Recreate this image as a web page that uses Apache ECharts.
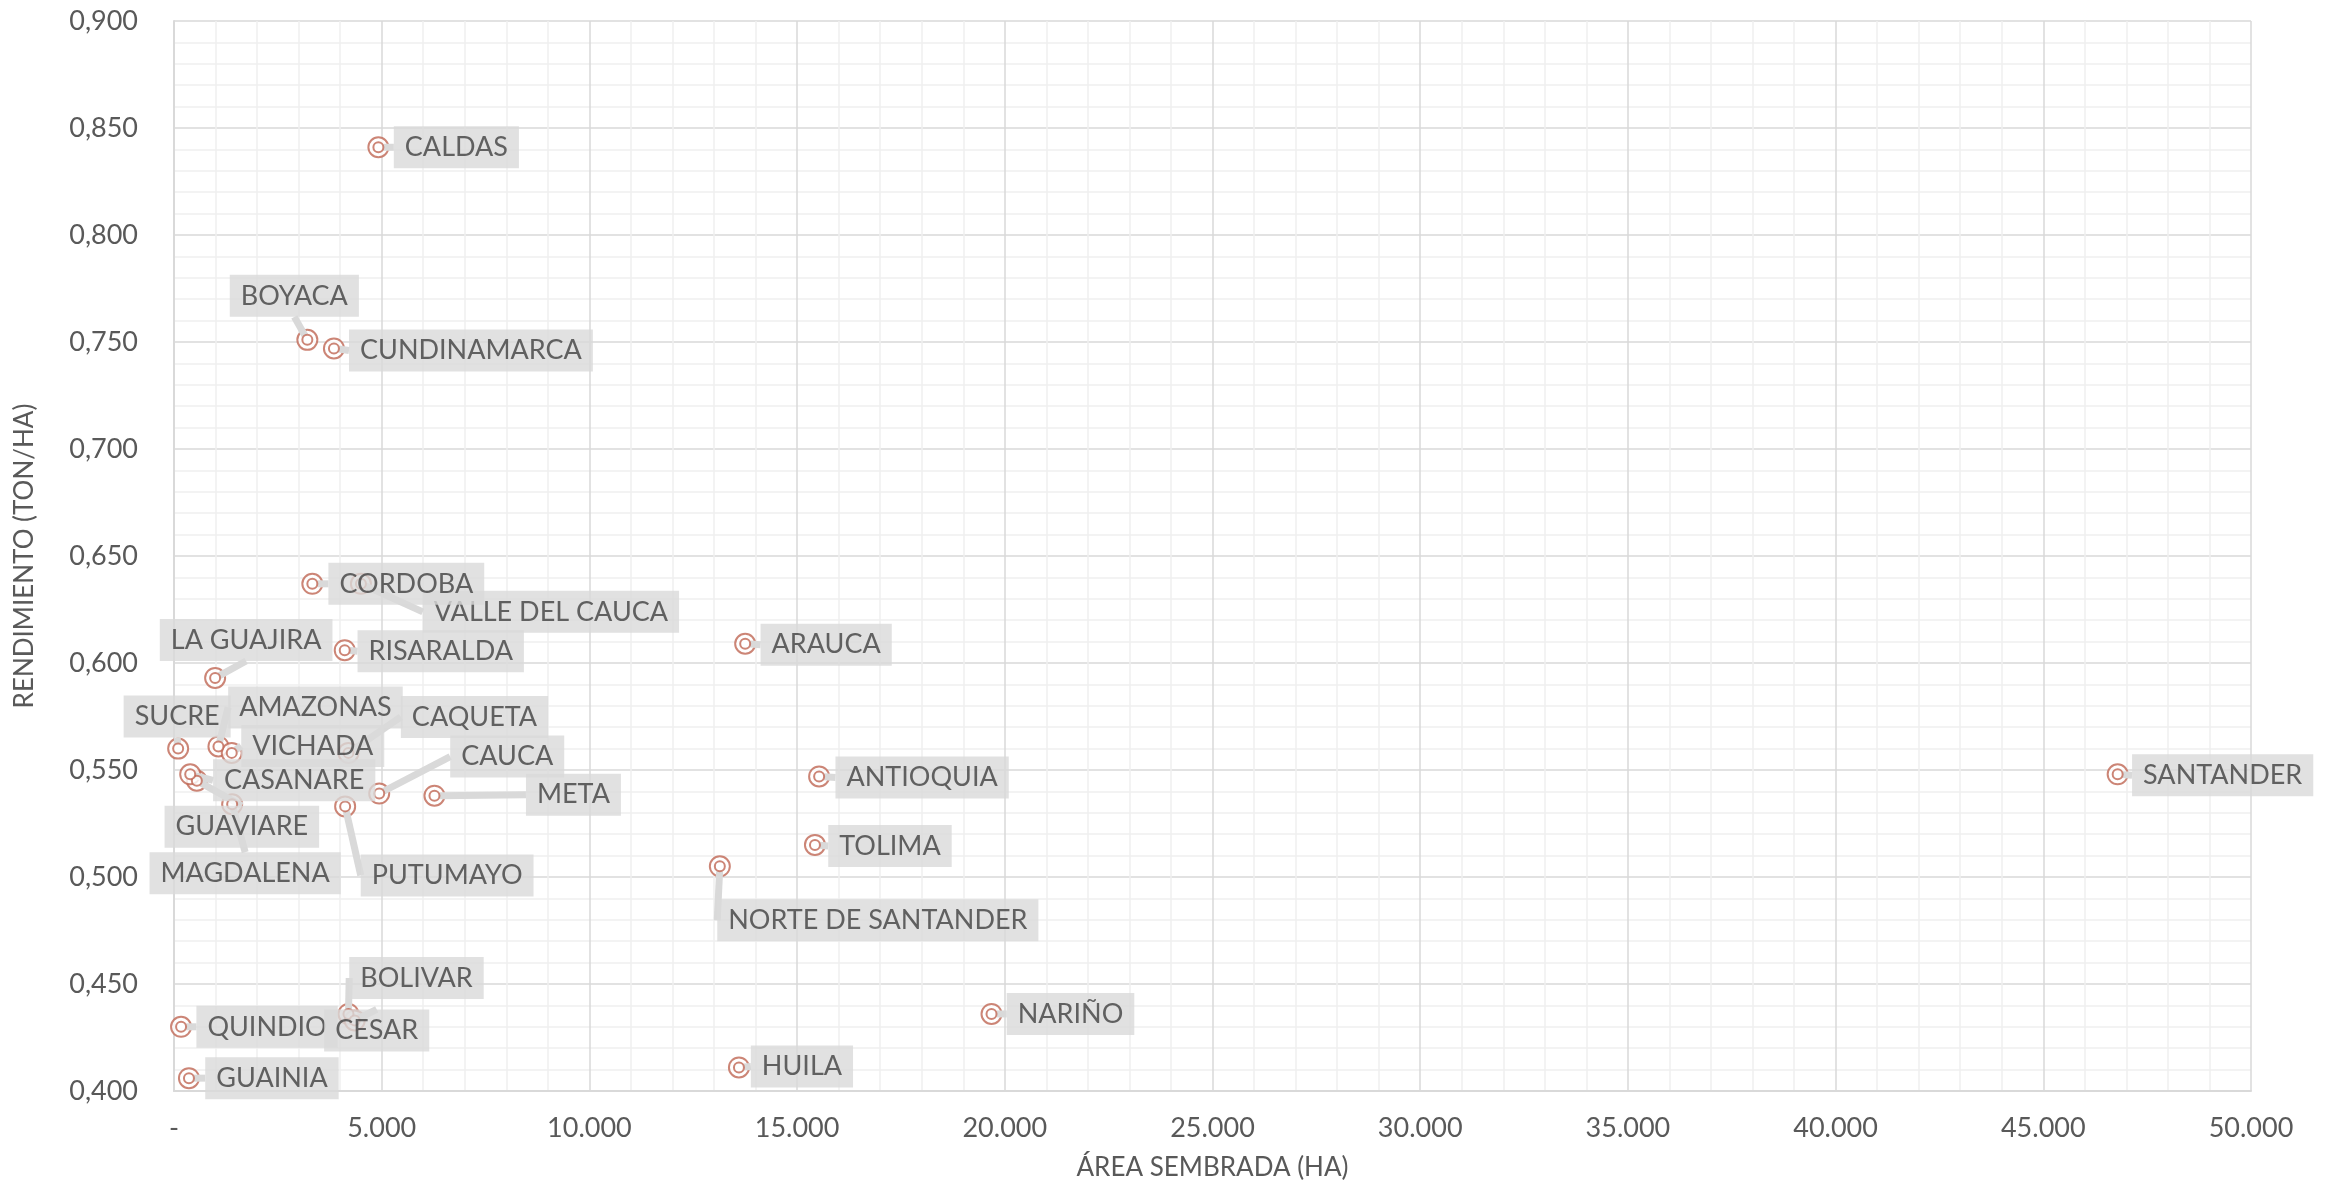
<!DOCTYPE html>
<html><head><meta charset="utf-8">
<script src="https://cdn.jsdelivr.net/npm/echarts@6/dist/echarts.min.js"></script>
<style>html,body{margin:0;padding:0;background:#fff}#c{width:2331px;height:1186px}</style>
</head><body><div id="c"></div>
<script>
// ---- data ----
const departments = ["VALLE DEL CAUCA","CALDAS","BOYACA","CUNDINAMARCA","CORDOBA","RISARALDA","LA GUAJIRA","ARAUCA","SUCRE","AMAZONAS","CAQUETA","VICHADA","CAUCA","META","GUAVIARE","MAGDALENA","CASANARE","PUTUMAYO","ANTIOQUIA","SANTANDER","TOLIMA","NORTE DE SANTANDER","BOLIVAR","QUINDIO","CESAR","NARIÑO","HUILA","GUAINIA"];
const areaHa = [4500,4920,3210,3850,3330,4110,990,13750,100,1070,4200,1390,4940,6270,550,1400,390,4120,15530,46790,15430,13140,4200,170,4350,19680,13600,360];
const rendimiento = [0.637,0.841,0.751,0.747,0.637,0.606,0.593,0.609,0.560,0.561,0.558,0.558,0.539,0.538,0.545,0.534,0.548,0.533,0.547,0.548,0.515,0.505,0.436,0.430,0.433,0.436,0.411,0.406];
const xTickValues = [0,5000,10000,15000,20000,25000,30000,35000,40000,45000,50000];
const yTickValues = [0.400,0.450,0.500,0.550,0.600,0.650,0.700,0.750,0.800,0.850,0.900];

// ---- layout of callout labels (pixel offsets from the point) ----
const labelOffsets = {
  "VALLE DEL CAUCA":[190,28],"CALDAS":[78,0],"BOYACA":[-13,-44],"CUNDINAMARCA":[137,2],
  "CORDOBA":[94,0],"RISARALDA":[96,1],"LA GUAJIRA":[31,-38],"ARAUCA":[81,1],
  "SUCRE":[-1,-32],"AMAZONAS":[97,-39],"CAQUETA":[126,-36],"VICHADA":[81,-7],
  "CAUCA":[128,-37],"META":[139,-1],"GUAVIARE":[45,46],"MAGDALENA":[13,69],
  "CASANARE":[104,6],"PUTUMAYO":[102,69],"ANTIOQUIA":[103,1],"SANTANDER":[105,1],
  "TOLIMA":[75,1],"NORTE DE SANTANDER":[158,54],"BOLIVAR":[68,-36],"QUINDIO":[86,0],
  "CESAR":[22,10],"NARIÑO":[79,0],"HUILA":[63,-1],"GUAINIA":[83,0]
};

const points = departments.map((d,i)=>({name:d, value:[areaHa[i], rendimiento[i]]}));
const FONT = 'Lato, "Noto Sans", sans-serif';
const MARK = '#bf6654';

function fmtX(v){
  if (v === 0) return '-';
  return String(Math.round(v)).replace(/\B(?=(\d{3})+(?!\d))/g,'.');
}
function fmtY(v){ return v.toFixed(3).replace('.',','); }

const chart = echarts.init(document.getElementById('c'), null, {renderer:'canvas'});
chart.setOption({
  backgroundColor:'#ffffff',
  animation:false,
  grid:{left:174, top:21, right:80, bottom:86, containLabel:false},
  xAxis:{
    type:'value', min:xTickValues[0], max:xTickValues[xTickValues.length-1],
    interval:xTickValues[1]-xTickValues[0],
    name:'ÁREA SEMBRADA (HA)', nameLocation:'middle', nameGap:64,
    nameTextStyle:{fontFamily:FONT, fontSize:26, color:'#595959'},
    axisLine:{show:true, lineStyle:{color:'#d9d9d9', width:2}},
    axisTick:{show:false},
    axisLabel:{formatter:fmtX, fontFamily:FONT, fontSize:27, color:'#595959', margin:24},
    splitLine:{show:true, lineStyle:{color:'#d9d9d9', width:1.5}},
    minorTick:{show:false, splitNumber:5},
    minorSplitLine:{show:true, lineStyle:{color:'#f0f0f0', width:1.5}}
  },
  yAxis:{
    type:'value', min:yTickValues[0], max:yTickValues[yTickValues.length-1],
    interval:0.05,
    name:'RENDIMIENTO (TON/HA)', nameLocation:'middle', nameGap:136, nameRotate:90,
    nameTextStyle:{fontFamily:FONT, fontSize:26, color:'#595959'},
    axisLine:{show:true, lineStyle:{color:'#d9d9d9', width:2}},
    axisTick:{show:false},
    axisLabel:{formatter:fmtY, fontFamily:FONT, fontSize:27, color:'#595959', margin:36},
    splitLine:{show:true, lineStyle:{color:'#d9d9d9', width:1.5}},
    minorTick:{show:false, splitNumber:5},
    minorSplitLine:{show:true, lineStyle:{color:'#f0f0f0', width:1.5}}
  },
  series:[
    {
      type:'scatter', z:2, data:points, symbol:'emptyCircle', symbolSize:20,
      itemStyle:{color:MARK, borderColor:MARK, borderWidth:3.5}, silent:true
    },
    {
      type:'scatter', z:3, data:points, symbol:'emptyCircle', symbolSize:10,
      itemStyle:{color:MARK, borderColor:MARK, borderWidth:3},
      label:{
        show:true, position:'inside', formatter:p=>p.name,
        fontFamily:FONT, fontSize:27, color:'#404040', lineHeight:26,
        backgroundColor:'#d9d9d9', padding:[8,11], align:'center', verticalAlign:'middle'
      },
      labelLine:{show:true, lineStyle:{color:'#d9d9d9', width:7}},
      labelLayout:function(params){
        const o = labelOffsets[departments[params.dataIndex]] || [80,0];
        return {dx:o[0], dy:o[1]};
      }
    }
  ]
});
</script>
</body></html>
